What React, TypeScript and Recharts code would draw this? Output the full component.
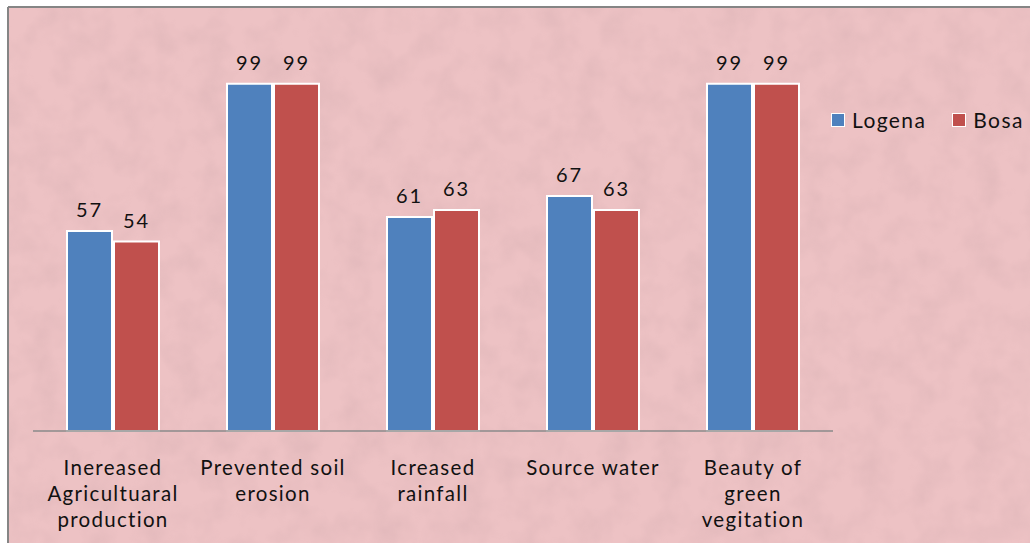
import React from "react";
import { Bar, BarChart, LabelList, XAxis, YAxis } from "recharts";

const CATEGORIES = [
  "Inereased Agricultuaral production",
  "Prevented soil erosion",
  "Icreased rainfall",
  "Source water",
  "Beauty of green vegitation",
];

const TICK_LINES = [
  ["Inereased", "Agricultuaral", "production"],
  ["Prevented soil", "erosion"],
  ["Icreased", "rainfall"],
  ["Source water"],
  ["Beauty of", "green", "vegitation"],
];

const LOGENA = [57, 99, 61, 67, 99];
const BOSA = [54, 99, 63, 63, 99];

const SERIES = [
  { key: "logena", name: "Logena", color: "#4f81bd" },
  { key: "bosa", name: "Bosa", color: "#c0504d" },
];

const data = CATEGORIES.map((name, i) => ({
  name,
  logena: LOGENA[i],
  bosa: BOSA[i],
}));

const FONT = "Lato, 'Open Sans', sans-serif";

function CategoryTick(props: any) {
  const { x, y, payload } = props;
  const lines = TICK_LINES[payload.index] ?? [payload.value];
  return (
    <g transform={`translate(${x},${y})`}>
      {lines.map((line, i) => (
        <text
          key={i}
          x={0}
          y={36 + i * 26}
          textAnchor="middle"
          fontFamily={FONT}
          fontSize={20.5}
          letterSpacing={1.3}
          fill="#111"
        >
          {line}
        </text>
      ))}
    </g>
  );
}

function LegendBox() {
  return (
    <div
      style={{
        position: "absolute",
        left: 831,
        top: 107,
        display: "flex",
        alignItems: "center",
        fontFamily: FONT,
        fontSize: 21,
        letterSpacing: 1.4,
        color: "#111",
        whiteSpace: "nowrap",
      }}
    >
      {SERIES.map((s, i) => (
        <div key={s.key} style={{ display: "flex", alignItems: "center", marginRight: i === 0 ? 26 : 0 }}>
          <span
            style={{
              display: "inline-block",
              width: 12,
              height: 12,
              background: s.color,
              border: "1.5px solid #fff",
              marginRight: 7,
            }}
          />
          <span>{s.name}</span>
        </div>
      ))}
    </div>
  );
}

export default function App() {
  return (
    <div style={{ position: "absolute", left: 0, top: 0, width: 1030, height: 543, background: "#fff", overflow: "hidden" }}>
      <svg width={1030} height={543} style={{ position: "absolute", left: 0, top: 0 }}>
        <defs>
          <filter id="paper" x="0" y="0" width="100%" height="100%">
            <feTurbulence type="fractalNoise" baseFrequency="0.035" numOctaves={3} seed={4} />
            <feColorMatrix
              type="matrix"
              values="0 0 0 0 0.55  0 0 0 0 0.35  0 0 0 0 0.37  0 0 0 1.2 -0.45"
            />
          </filter>
        </defs>
        <rect x={8} y={7} width={1030} height={543} fill="#edc2c4" />
        <rect x={8} y={7} width={1030} height={543} filter="url(#paper)" opacity={0.35} />
        <line x1={8} y1={7} x2={1030} y2={7} stroke="#858585" strokeWidth={2} />
        <line x1={8} y1={7} x2={8} y2={543} stroke="#858585" strokeWidth={2} />
      </svg>
      <div style={{ position: "absolute", left: 0, top: 0 }}>
        <BarChart
          width={1030}
          height={543}
          data={data}
          margin={{ top: 10, right: 197, bottom: 0, left: 33 }}
          barGap={2}
          barSize={45}
        >
          <XAxis
            dataKey="name"
            tickLine={false}
            axisLine={{ stroke: "#8a8a8a", strokeWidth: 1.5 }}
            tick={<CategoryTick />}
            interval={0}
            height={112}
          />
          <YAxis hide domain={[0, 120]} />
          {SERIES.map((s) => (
            <Bar
              key={s.key}
              dataKey={s.key}
              name={s.name}
              fill={s.color}
              stroke="#fff"
              strokeWidth={2}
              isAnimationActive={false}
            >
              <LabelList
                dataKey={s.key}
                position="top"
                offset={14}
                fontFamily={FONT}
                fontSize={20}
                letterSpacing={1.8}
                fill="#111"
              />
            </Bar>
          ))}
        </BarChart>
      </div>
      <LegendBox />
    </div>
  );
}
